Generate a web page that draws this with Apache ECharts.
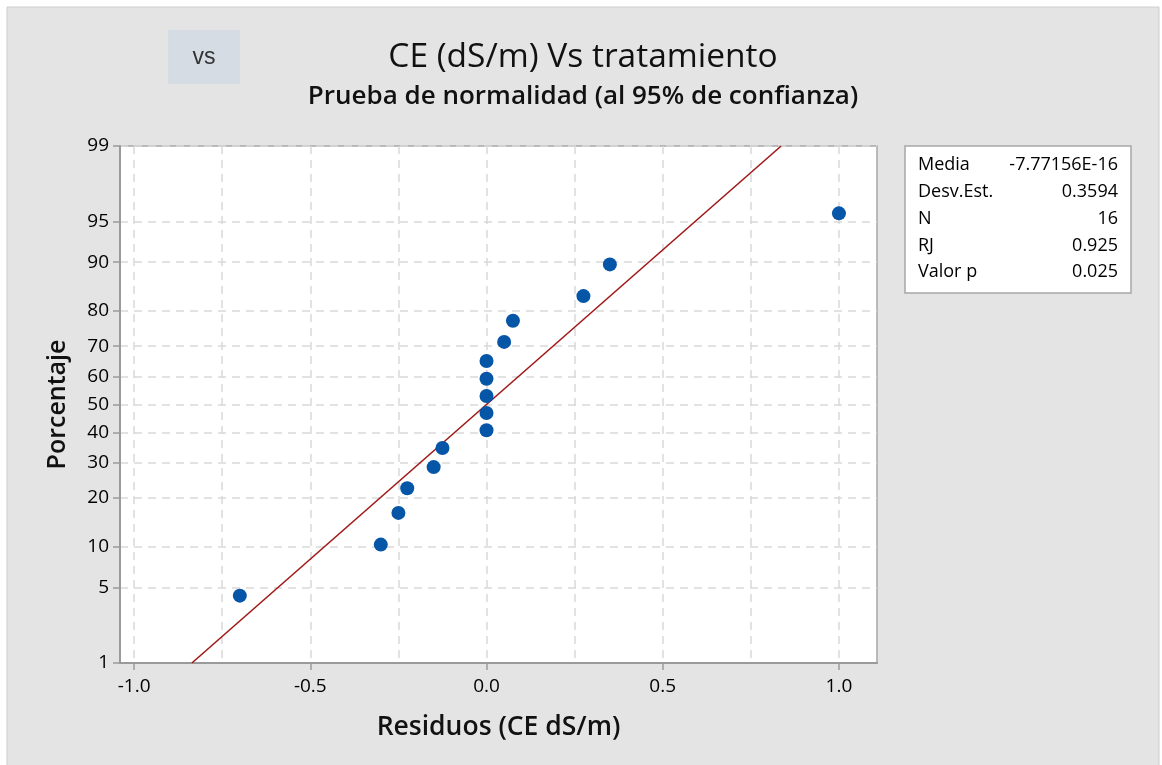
<!DOCTYPE html>
<html>
<head>
<meta charset="utf-8">
<script src="https://cdn.jsdelivr.net/npm/echarts@6/dist/echarts.min.js"></script>
<style>
  html, body { margin: 0; padding: 0; background: #ffffff; }
  #chart { width: 1162px; height: 765px; }
</style>
</head>
<body>
<div id="chart"></div>
<script>
// Residuals (CE dS/m), sorted, and their plotting percentages
const residuals = [-0.70, -0.30, -0.25, -0.225, -0.15, -0.125, 0, 0, 0, 0, 0, 0.05, 0.075, 0.275, 0.35, 1.0];
const percents = [4.27, 10.37, 16.46, 22.56, 28.66, 34.76, 40.85, 46.95, 53.05, 59.15, 65.24, 71.34, 77.44, 83.54, 89.63, 95.73];

// Fitted normal line end points (residual, percentage)
const fitResiduals = [-0.836, 0.836];
const fitPercents = [1, 99];

// Axis ticks
const yTickPercents = [1, 5, 10, 20, 30, 40, 50, 60, 70, 80, 90, 95, 99];
const xTickValues = [-1.0, -0.5, 0.0, 0.5, 1.0];
const xGridValues = [-1.0, -0.75, -0.5, -0.25, 0.0, 0.25, 0.5, 0.75, 1.0];

// Summary table
const statLabels = ['Media', 'Desv.Est.', 'N', 'RJ', 'Valor p'];
const statValues = ['-7.77156E-16', '0.3594', '16', '0.925', '0.025'];

const titleText = 'CE (dS/m) Vs tratamiento';
const subtitleText = 'Prueba de normalidad (al 95% de confianza)';

// Inverse standard normal CDF (Acklam), used for the probability scale
function probit(p) {
  const a = [-3.969683028665376e+01, 2.209460984245205e+02, -2.759285104469687e+02, 1.383577518672690e+02, -3.066479806614716e+01, 2.506628277459239e+00];
  const b = [-5.447609879822406e+01, 1.615858368580409e+02, -1.556989798598866e+02, 6.680131188771972e+01, -1.328068155288572e+01];
  const c = [-7.784894002430293e-03, -3.223964580411365e-01, -2.400758277161838e+00, -2.549732539343734e+00, 4.374664141464968e+00, 2.938163982698783e+00];
  const d = [7.784695709041462e-03, 3.224671290700398e-01, 2.445134137142996e+00, 3.754408661907416e+00];
  const pl = 0.02425, ph = 1 - pl;
  let q, r;
  if (p < pl) {
    q = Math.sqrt(-2 * Math.log(p));
    return (((((c[0]*q+c[1])*q+c[2])*q+c[3])*q+c[4])*q+c[5]) / ((((d[0]*q+d[1])*q+d[2])*q+d[3])*q+1);
  } else if (p <= ph) {
    q = p - 0.5; r = q * q;
    return (((((a[0]*r+a[1])*r+a[2])*r+a[3])*r+a[4])*r+a[5])*q / (((((b[0]*r+b[1])*r+b[2])*r+b[3])*r+b[4])*r+1);
  } else {
    q = Math.sqrt(-2 * Math.log(1 - p));
    return -(((((c[0]*q+c[1])*q+c[2])*q+c[3])*q+c[4])*q+c[5]) / ((((d[0]*q+d[1])*q+d[2])*q+d[3])*q+1);
  }
}
const toZ = pct => probit(pct / 100);
const yTickZ = yTickPercents.map(toZ);

const FONT = '"Open Sans", "Noto Sans", sans-serif';
const gridLine = { show: true, lineStyle: { color: '#d9d9d9', width: 1.5, type: [8, 6] } };
const tickLabelStyle = { fontFamily: FONT, fontSize: 19, fontWeight: 500, color: '#000' };

const chart = echarts.init(document.getElementById('chart'), null, { renderer: 'canvas' });

// Summary box graphic
const boxX = 905, boxY = 146, boxW = 226, boxH = 147, rowH = 26.8, firstRow = 165;
const statGraphics = [{
  type: 'rect', shape: { x: boxX, y: boxY, width: boxW, height: boxH },
  style: { fill: '#ffffff', stroke: '#a6a6a6', lineWidth: 1.5 }, z: 10
}];
statLabels.forEach((lab, i) => {
  statGraphics.push({
    type: 'text', x: 918, y: firstRow + i * rowH, z: 11,
    style: { text: lab, font: '500 18px ' + FONT, fill: '#000', align: 'left', verticalAlign: 'middle' }
  });
  statGraphics.push({
    type: 'text', x: 1118, y: firstRow + i * rowH, z: 11,
    style: { text: statValues[i], font: '500 18px ' + FONT, fill: '#000', align: 'right', verticalAlign: 'middle' }
  });
});

chart.setOption({
  backgroundColor: '#ffffff',
  animation: false,
  graphic: [
    { type: 'rect', shape: { x: 7, y: 7, width: 1152, height: 765 }, style: { fill: '#e4e4e4', stroke: '#cdcdcd', lineWidth: 1 }, z: -10 },
    { type: 'rect', shape: { x: 168, y: 30, width: 72, height: 54 }, style: { fill: '#d6dce4' }, z: 1 },
    { type: 'text', x: 204, y: 58, z: 2, style: { text: 'vs', font: '23px "Liberation Sans", Arial, sans-serif', fill: '#333', align: 'center', verticalAlign: 'middle' } },
    { type: 'text', x: 583, y: 57, z: 2, style: { text: titleText, font: '33.5px ' + FONT, fill: '#111', align: 'center', verticalAlign: 'middle' } },
    { type: 'text', x: 583, y: 97, z: 2, style: { text: subtitleText, font: '600 26px ' + FONT, fill: '#111', align: 'center', verticalAlign: 'middle' } }
  ].concat(statGraphics),
  grid: {
    left: 120, right: 285, top: 146, bottom: 102,
    show: true, backgroundColor: '#ffffff', borderColor: '#a6a6a6', borderWidth: 1.5
  },
  xAxis: [{
    type: 'value', min: -1.04, max: 1.108,
    name: 'Residuos (CE dS/m)', nameLocation: 'middle', nameGap: 51,
    nameTextStyle: { fontFamily: FONT, fontSize: 26.5, fontWeight: 600, color: '#111' },
    axisLine: { show: true, onZero: false, lineStyle: { color: '#9a9a9a', width: 2 } },
    axisTick: { show: true, length: 7, customValues: xTickValues, lineStyle: { color: '#9a9a9a', width: 1.5 } },
    axisLabel: Object.assign({ customValues: xTickValues, margin: 14, formatter: v => v.toFixed(1) }, tickLabelStyle),
    splitLine: { show: false }
  }, {
    type: 'value', min: -1.04, max: 1.108, position: 'bottom',
    axisLine: { show: false }, axisLabel: { show: false },
    axisTick: { show: false, customValues: xGridValues },
    splitLine: gridLine
  }],
  yAxis: {
    type: 'value', min: toZ(1), max: toZ(99),
    name: 'Porcentaje', nameLocation: 'middle', nameGap: 50, nameRotate: 90,
    nameTextStyle: { fontFamily: FONT, fontSize: 25, fontWeight: 600, color: '#111' },
    axisLine: { show: true, onZero: false, lineStyle: { color: '#9a9a9a', width: 2 } },
    axisTick: { show: true, length: 7, customValues: yTickZ, lineStyle: { color: '#9a9a9a', width: 1.5 } },
    axisLabel: Object.assign({
      customValues: yTickZ, margin: 11,
      formatter: v => {
        let best = 0;
        yTickZ.forEach((z, i) => { if (Math.abs(z - v) < Math.abs(yTickZ[best] - v)) best = i; });
        return String(yTickPercents[best]);
      }
    }, tickLabelStyle),
    splitLine: gridLine
  },
  series: [{
    type: 'line', xAxisIndex: 0,
    data: fitResiduals.map((r, i) => [r, toZ(fitPercents[i])]),
    showSymbol: false, symbol: 'none',
    lineStyle: { color: '#a01818', width: 1.6 }, z: 3
  }, {
    type: 'scatter', xAxisIndex: 0,
    data: residuals.map((r, i) => [r, toZ(percents[i])]),
    symbol: 'circle', symbolSize: 14,
    itemStyle: { color: '#0656a8', opacity: 1 }, z: 4
  }]
});
</script>
</body>
</html>
